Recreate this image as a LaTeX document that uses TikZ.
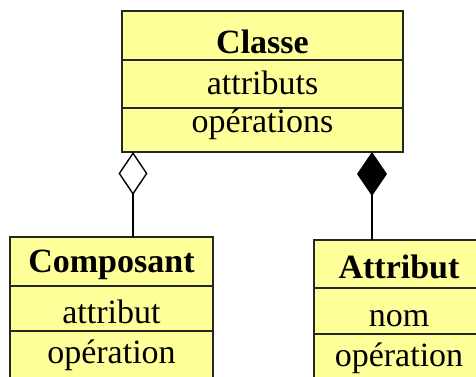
\documentclass[tikz,border=0pt]{standalone}
\usepackage{fontspec}
\setmainfont{Liberation Serif}
\usetikzlibrary{positioning,arrows.meta}
\definecolor{classfill}{RGB}{255,255,153}
\begin{document}
\begin{tikzpicture}[x=1pt,y=-1pt,
		part/.style={draw=black!85, line width=1.5pt, fill=classfill, outer sep=0pt, inner sep=0pt,
			text depth=0pt, font=\fontsize{34}{34}\selectfont},
		bl/.style={text height=#1},
		agreg/.style={line width=1.4pt, -{Diamond[open,length=43pt,width=29pt]}},
		compo/.style={line width=1.4pt, -{Diamond[length=44pt,width=30pt]}}]
		\useasboundingbox (0,0) rectangle (476,377);
		% classe
		\node[part, bl=35.6pt, minimum width=281pt, minimum height=49pt] (classe) at (262.5,35.5) {\textbf{Classe}};
		\node[part, bl=20.6pt, minimum width=281pt, minimum height=48pt, below=0pt of classe] (classeattr) {attributs};
		\node[part, bl=5.4pt, minimum width=281pt, minimum height=44pt, below=0pt of classeattr] (classeop) {opérations};
		% composant
		\node[part, bl=21pt, minimum width=203pt, minimum height=49pt] (composant) at (111.5,261.5) {\textbf{Composant}};
		\node[part, bl=29.6pt, minimum width=203pt, minimum height=45pt, below=0pt of composant] (composantattr) {attribut};
		\node[part, bl=15.6pt, minimum width=203pt, minimum height=49pt, below=0pt of composantattr] (composantop) {opération};
		% attribut
		\node[part, bl=28.6pt, minimum width=170pt, minimum height=48pt] (attribut) at (399,264) {\textbf{Attribut}};
		\node[part, bl=31.4pt, minimum width=170pt, minimum height=46pt, below=0pt of attribut] (attributnom) {nom};
		\node[part, bl=17.4pt, minimum width=170pt, minimum height=48pt, below=0pt of attributnom] (attributop) {opération};
		% liens
		\draw[agreg] ([xshift=123pt]composant.north west) -- ([xshift=11pt]classeop.south west);
		\draw[compo] ([xshift=58pt]attribut.north west) -- ([xshift=250pt]classeop.south west);
	\end{tikzpicture}
\end{document}
